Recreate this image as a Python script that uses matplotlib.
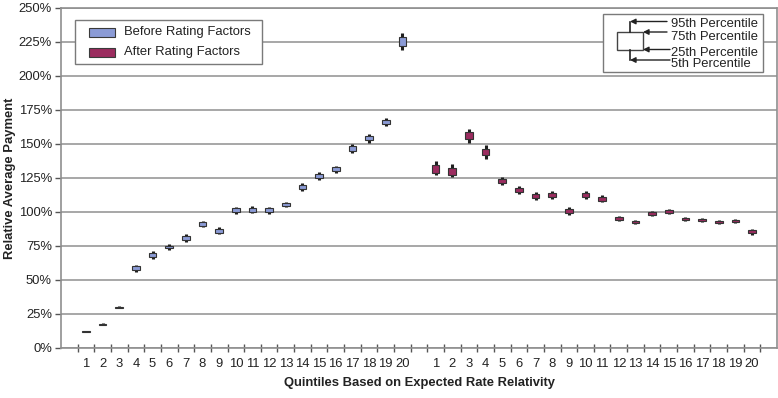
import numpy as np
import matplotlib
matplotlib.use("Agg")
import matplotlib.pyplot as plt
from matplotlib.patches import Rectangle
from matplotlib.ticker import FuncFormatter

plt.rcParams['font.family'] = ['Liberation Sans', 'DejaVu Sans']

# quintile labels for each group
quintiles = list(range(1, 21))

# Before rating factors: 5th, 25th, 75th, 95th percentiles (%)
before_p5 = [11.9, 17.0, 29.2, 56.0, 65.8, 72.4, 78.3, 88.7, 83.6, 98.6,
             99.0, 98.6, 103.4, 115.2, 123.7, 128.7, 143.3, 150.9, 163.2, 218.8]
before_p25 = [12.0, 17.2, 29.5, 57.2, 67.0, 73.3, 79.5, 89.8, 84.9, 99.8,
              100.3, 99.8, 104.4, 116.6, 125.0, 130.0, 145.0, 152.6, 164.7, 222.0]
before_p75 = [12.6, 18.0, 30.5, 60.0, 69.8, 75.3, 82.3, 92.6, 87.7, 102.6,
              103.1, 102.6, 106.4, 119.6, 128.0, 132.8, 148.2, 155.8, 167.7, 228.4]
before_p95 = [12.7, 18.2, 30.8, 61.2, 71.0, 76.2, 83.5, 93.7, 89.0, 103.8,
              104.4, 103.8, 107.4, 121.0, 129.3, 134.1, 149.9, 157.5, 169.2, 231.6]

# After rating factors
after_p5 = [127.5, 125.5, 150.5, 139.0, 119.9, 113.3, 108.9, 109.5, 97.8, 109.8,
            107.0, 93.3, 91.4, 96.7, 98.2, 93.1, 92.4, 91.2, 92.0, 83.4]
after_p25 = [128.8, 127.3, 154.0, 141.8, 121.3, 114.7, 110.3, 110.8, 99.2, 111.0,
             108.1, 94.2, 92.1, 97.7, 99.1, 93.8, 93.2, 91.9, 92.7, 84.4]
after_p75 = [134.3, 132.7, 159.0, 146.5, 124.3, 117.7, 113.3, 113.8, 102.2, 114.0,
             111.1, 96.4, 93.7, 100.1, 101.3, 95.4, 95.0, 93.3, 94.1, 86.6]
after_p95 = [137.8, 135.6, 161.3, 149.5, 125.7, 119.1, 114.7, 115.1, 103.6, 115.2,
             112.2, 97.3, 94.4, 101.1, 102.2, 96.1, 95.8, 94.0, 94.8, 87.6]

before_color = '#8b9bd6'
after_color = '#9b2c5f'
grid_color = '#8f8f8f'
text_color = '#222222'
W, H = 778, 398
FS = 9.4

fig = plt.figure(figsize=(W / 100, H / 100), dpi=100)
ax = fig.add_axes([61 / W, 1 - 348 / H, 716 / W, 340 / H])

# slot positions: empty slot at each end and one between groups
x_before = np.arange(len(quintiles)) + 1.5
x_after = np.arange(len(quintiles)) + 22.5

def draw_group(x, p5, p25, p75, p95, color):
    p5, p25, p75, p95 = map(np.asarray, (p5, p25, p75, p95))
    ax.vlines(x, p5, p95, color='#1e1e1e', linewidth=2.2, zorder=3)
    ax.bar(x, p75 - p25, bottom=p25, width=0.46, color=color,
           edgecolor='#333333', linewidth=0.8, zorder=4)

draw_group(x_before, before_p5, before_p25, before_p75, before_p95, before_color)
draw_group(x_after, after_p5, after_p25, after_p75, after_p95, after_color)

ax.set_xlim(0, 43)
ax.set_ylim(0, 250)
ax.set_yticks(np.arange(0, 251, 25))
ax.yaxis.set_major_formatter(FuncFormatter(lambda v, p: f'{v:.0f}%'))
ax.set_xticks(np.arange(1, 43))
ax.set_xticklabels([])
ax.set_xticks(np.concatenate([x_before, x_after]), minor=True)
ax.set_xticklabels([str(q) for q in quintiles] * 2, minor=True)
ax.tick_params(axis='x', which='major', direction='inout', length=6,
               color='#555555', width=1)
ax.tick_params(axis='x', which='minor', length=0, pad=7, labelsize=FS,
               labelcolor=text_color)
ax.tick_params(axis='y', direction='out', length=4, color='#555555', width=1,
               labelsize=FS, labelcolor=text_color, pad=2.5)
ax.grid(axis='y', color=grid_color, linewidth=1.1, zorder=0)
ax.set_axisbelow(True)
for side in ['left', 'bottom', 'right', 'top']:
    ax.spines[side].set_color(grid_color)
    ax.spines[side].set_linewidth(1.2)

ax.set_xlabel('Quintiles Based on Expected Rate Relativity', fontsize=FS,
              fontweight='bold', color=text_color, labelpad=5)
ax.set_ylabel('Relative Average Payment', fontsize=FS, fontweight='bold',
              color=text_color)
ax.yaxis.set_label_coords((16 - 61) / 716, 0.5)

# overlay in pixel coordinates for the two keys
ov = fig.add_axes([0, 0, 1, 1], zorder=10)
ov.set_xlim(0, W)
ov.set_ylim(H, 0)
ov.axis('off')
ov.patch.set_alpha(0)

# series key
ov.add_patch(Rectangle((75, 19.5), 187, 44, facecolor='white',
                       edgecolor='#7a7a7a', linewidth=1))
for yy, col, lab in [(32, before_color, 'Before Rating Factors'),
                     (52, after_color, 'After Rating Factors')]:
    ov.add_patch(Rectangle((89, yy - 4.5), 26, 9, facecolor=col,
                           edgecolor='#3a3a3a', linewidth=0.8))
    ov.text(124, yy, lab, fontsize=FS, va='center', ha='left', color=text_color)

# percentile key
ov.add_patch(Rectangle((603, 14), 160, 58, facecolor='white',
                       edgecolor='#7a7a7a', linewidth=1))
ov.add_patch(Rectangle((617, 32), 26, 18, facecolor='white',
                       edgecolor='#444444', linewidth=1))
ov.plot([630, 630], [32, 21.5], color=text_color, linewidth=1.2)
ov.plot([630, 630], [50, 60], color=text_color, linewidth=1.2)
arrow_kw = dict(arrowstyle='-|>', color=text_color, lw=1, mutation_scale=8,
                shrinkA=0, shrinkB=0)
for x0, x1, yy in [(667, 630, 21.5), (667, 643, 32), (670, 643, 49.5), (670, 630, 60)]:
    ov.annotate('', xy=(x1, yy), xytext=(x0, yy), arrowprops=arrow_kw)
for yy, lab in [(24, '95th Percentile'), (37.5, '75th Percentile'),
                (52.5, '25th Percentile'), (64, '5th Percentile')]:
    ov.text(671, yy, lab, fontsize=FS, va='center', ha='left', color=text_color)

fig.savefig('out.png', dpi=100)
